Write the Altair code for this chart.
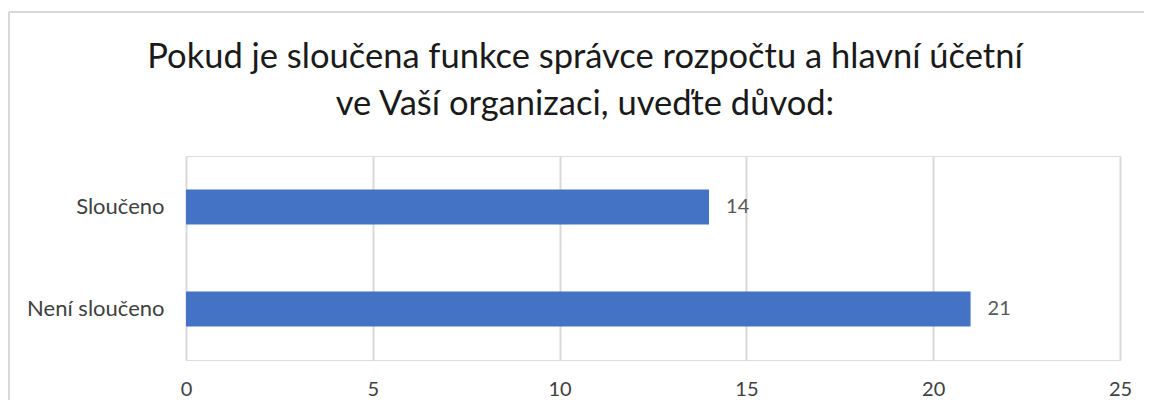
import altair as alt
import pandas as pd

categories = ["Sloučeno", "Není sloučeno"]
values = [14, 21]
x_ticks = [0, 5, 10, 15, 20, 25]
title_lines = ["Pokud je sloučena funkce správce rozpočtu a hlavní účetní",
               "ve Vaší organizaci, uveďte důvod:"]

df = pd.DataFrame({"kategorie": categories, "pocet": values})

FONT = "Lato"

base = alt.Chart(df)

y_enc = alt.Y("kategorie:N", sort=categories, title=None,
              scale=alt.Scale(paddingInner=0, paddingOuter=0),
              axis=alt.Axis(domain=False, ticks=False, labelPadding=22,
                            labelFontSize=22, labelColor="#404040", labelFont=FONT))
x_enc = alt.X("pocet:Q", title=None,
              scale=alt.Scale(domain=[0, 25], nice=False),
              axis=alt.Axis(values=x_ticks, domain=False, ticks=False, labelPadding=19,
                            labelFlush=False, labelOverlap=False,
                            labelFontSize=20, labelColor="#404040", labelFont=FONT,
                            gridColor="#d9d9d9", gridWidth=2))

bars = base.mark_bar(size=35, color="#4472C4").encode(x=x_enc, y=y_enc)
labels = base.mark_text(align="left", dx=17, fontSize=20, color="#595959", font=FONT).encode(
    x="pocet:Q", y=alt.Y("kategorie:N", sort=categories), text="pocet:Q")

frame_left = base.mark_rule(color="#d9d9d9", strokeWidth=2).encode(
    x=alt.value(-177), y=alt.value(-144), y2=alt.value(260))
frame_top = base.mark_rule(color="#d9d9d9", strokeWidth=2).encode(
    x=alt.value(-177), x2=alt.value(1000), y=alt.value(-144))

chart = alt.layer(bars, labels, frame_left, frame_top).properties(
    width=934, height=204,
    title=alt.TitleParams(text=title_lines, fontSize=34.5, font=FONT, color="#1a1a1a",
                          fontWeight="normal", lineHeight=47, anchor="middle",
                          dx=-68, dy=111, offset=0),
    autosize=alt.AutoSizeParams(type="none"),
    padding={"left": 178, "top": 148, "right": 24, "bottom": 40},
).configure_view(stroke=None).configure(background="white")

chart.save("out.html", embed_options={"renderer": "svg", "actions": False})
